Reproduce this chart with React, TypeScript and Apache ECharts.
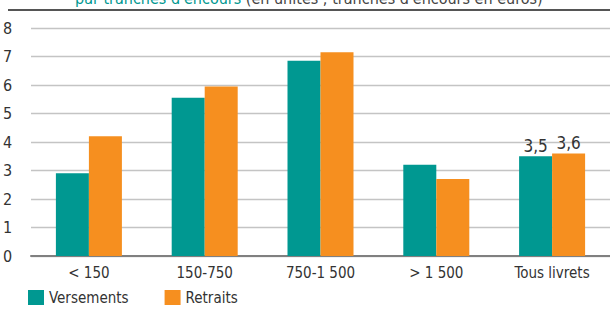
import React, { useEffect, useRef } from "react";
import * as echarts from "echarts";

const categories = ["< 150", "150-750", "750-1 500", "> 1 500", "Tous livrets"];
const versements = [2.9, 5.55, 6.85, 3.2, 3.5];
const retraits = [4.2, 5.95, 7.15, 2.7, 3.6];
const yTicks = [0, 1, 2, 3, 4, 5, 6, 7, 8];
const labelled = "Tous livrets";
const titleMain = "par tranches d'encours";
const titleSub = "(en unités ; tranches d'encours en euros)";

const TEAL = "#009891";
const ORANGE = "#F68F1F";
const FONT = "'Liberation Sans Narrow', 'DejaVu Sans Condensed', 'Roboto', sans-serif";

export default function App() {
  const ref = useRef<HTMLDivElement>(null);
  useEffect(() => {
    const chart = echarts.init(ref.current!, null, { renderer: "svg" });
    const lbl = (p: any) => (p.name === labelled ? String(p.value).replace(".", ",") : "");
    chart.setOption({
      animation: false,
      textStyle: { fontFamily: FONT },
      grid: { left: 28, right: -3, top: 28, bottom: 53 },
      xAxis: {
        type: "category",
        data: categories,
        axisTick: { show: false },
        axisLine: { lineStyle: { color: "#808080", width: 2 } },
        axisLabel: { color: "#333", fontSize: 15, margin: 9, fontFamily: FONT },
      },
      yAxis: {
        type: "value",
        min: yTicks[0],
        max: yTicks[yTicks.length - 1],
        interval: 1,
        axisLabel: { color: "#333", fontSize: 16, margin: 10, align: "left", padding: [0, 0, 0, -18], fontFamily: FONT },
        splitLine: { lineStyle: { color: "#c4c4c4", width: 1.3 } },
      },
      legend: {
        left: 28,
        top: 290,
        padding: 0,
        itemWidth: 16,
        itemHeight: 15,
        itemGap: 36,
        icon: "rect",
        textStyle: { color: "#333", fontSize: 15, fontFamily: FONT },
        data: ["Versements", "Retraits"],
      },
      graphic: [
        { type: "line", shape: { x1: 8, y1: 10, x2: 610, y2: 10 }, style: { stroke: "#555", lineWidth: 2 } },
        {
          type: "text",
          left: 75,
          top: -10,
          style: {
            text: "{a|" + titleMain + "} {b|" + titleSub + "}",
            rich: {
              a: { fill: TEAL, fontSize: 16, fontFamily: FONT },
              b: { fill: "#444", fontSize: 16, fontFamily: FONT },
            },
            fontSize: 16,
            fontFamily: FONT,
          },
        },
      ],
      series: [
        {
          name: "Versements",
          type: "bar",
          data: versements,
          itemStyle: { color: TEAL },
          barGap: "0%",
          barCategoryGap: "43%",
          label: { show: true, position: "top", formatter: lbl, color: "#333", fontSize: 17, distance: 2, fontFamily: FONT },
        },
        {
          name: "Retraits",
          type: "bar",
          data: retraits,
          itemStyle: { color: ORANGE },
          label: { show: true, position: "top", formatter: lbl, color: "#333", fontSize: 17, distance: 2, fontFamily: FONT },
        },
      ],
    });
    return () => chart.dispose();
  }, []);
  return <div ref={ref} style={{ position: "absolute", left: 0, top: 0, width: 610, height: 309 }} />;
}
